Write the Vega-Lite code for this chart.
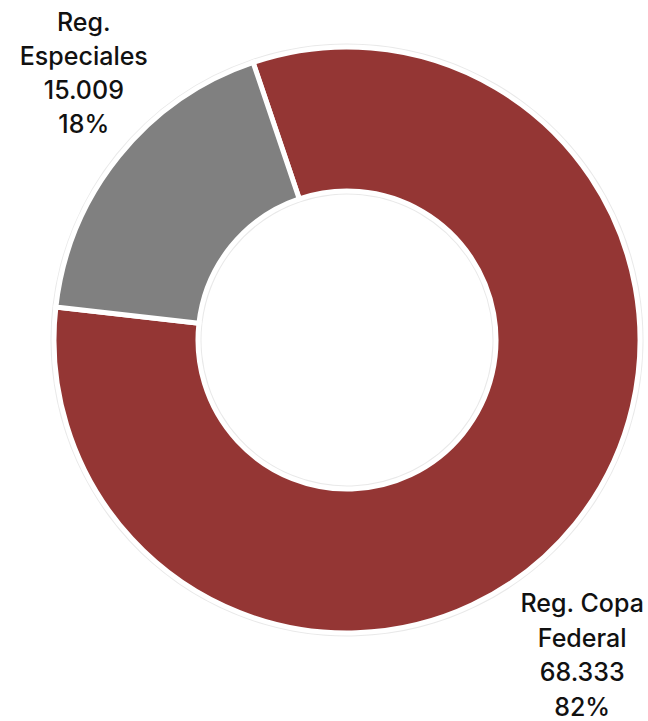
{
  "$schema": "https://vega.github.io/schema/vega-lite/v6.json",
  "autosize": {"type": "none"},
  "padding": {"left": 47, "top": 0, "right": 1, "bottom": 41},
  "width": 600,
  "height": 680,
  "background": "white",
  "config": {"view": {"stroke": null}},
  "data": {
    "values": [
      {"categoria": "Reg. Copa Federal", "etiqueta": "Reg. Copa\nFederal", "valor": 68333},
      {"categoria": "Reg. Especiales", "etiqueta": "Reg.\nEspeciales", "valor": 15009}
    ]
  },
  "transform": [
    {"joinaggregate": [{"op": "sum", "field": "valor", "as": "total"}]},
    {"calculate": "datum.etiqueta + '\\n' + replace(format(datum.valor, ','), ',', '.') + '\\n' + format(datum.valor / datum.total, '.0%')", "as": "lbl"}
  ],
  "encoding": {
    "theta": {"field": "valor", "type": "quantitative", "stack": true, "scale": {"range": [5.957, 12.2402]}},
    "order": {"field": "categoria", "sort": "ascending"}
  },
  "layer": [
    {
      "mark": {"type": "arc", "outerRadius": 296.5, "innerRadius": 145.5, "color": "#e9e9e9", "strokeWidth": 0},
      "encoding": {"detail": {"field": "categoria"}}
    },
    {
      "mark": {"type": "arc", "outerRadius": 293, "innerRadius": 149, "stroke": "white", "strokeWidth": 5},
      "encoding": {
        "color": {
          "field": "categoria",
          "type": "nominal",
          "scale": {"domain": ["Reg. Copa Federal", "Reg. Especiales"], "range": ["#943634", "#808080"]},
          "legend": null
        }
      }
    },
    {
      "mark": {"type": "text", "radius": 360, "dx": 17, "dy": -91, "align": "center", "baseline": "middle", "lineBreak": "\n", "lineHeight": 34, "font": "Inter", "fontSize": 25, "letterSpacing": 0.5, "fontWeight": 500, "color": "#111111"},
      "encoding": {
        "detail": {"field": "categoria"},
        "text": {"condition": {"test": "datum.categoria === 'Reg. Especiales'", "field": "lbl"}, "value": ""}
      }
    },
    {
      "mark": {"type": "text", "radius": 360, "dx": -45, "dy": 38, "align": "center", "baseline": "middle", "lineBreak": "\n", "lineHeight": 34.5, "font": "Inter", "fontSize": 25, "letterSpacing": 0.5, "fontWeight": 500, "color": "#111111"},
      "encoding": {
        "detail": {"field": "categoria"},
        "text": {"condition": {"test": "datum.categoria === 'Reg. Copa Federal'", "field": "lbl"}, "value": ""}
      }
    }
  ]
}
